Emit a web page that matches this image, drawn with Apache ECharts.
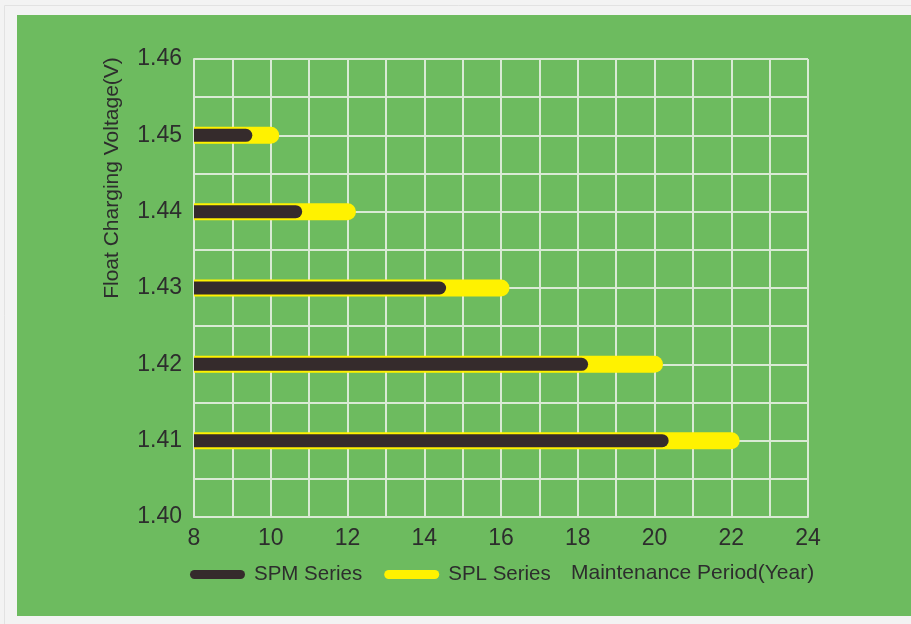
<!DOCTYPE html>
<html>
<head>
<meta charset="utf-8">
<script src="https://cdn.jsdelivr.net/npm/echarts@6/dist/echarts.min.js"></script>
<style>
html,body{margin:0;padding:0;background:#f3f3f3;}
#chart{width:911px;height:624px;}
</style>
</head>
<body>
<div id="chart"></div>
<script>
// Data
const voltages = [1.45, 1.44, 1.43, 1.42, 1.41];
const splYears = [10, 12, 16, 20, 22];
const spmYears = [9.35, 10.65, 14.4, 18.1, 20.2];
const startYear = 8;
const seriesNames = ['SPM Series', 'SPL Series'];
const yAxisTitle = 'Float Charging Voltage(V)';
const xAxisTitle = 'Maintenance Period(Year)';

const GREEN = '#6dbb5f';
const DARK = '#352b2c';
const YELLOW = '#fff200';
const GRIDC = '#d9ead4';
const TEXT = '#2d2d2d';
const FONT = '"Liberation Sans", Arial, sans-serif';

const chart = echarts.init(document.getElementById('chart'), null, {renderer: 'canvas'});

function pillRenderer(thickness, color) {
  return function (params, api) {
    const y = api.value(1);
    const p0 = api.coord([startYear, y]);
    const p1 = api.coord([api.value(0), y]);
    const r = thickness / 2;
    return {
      type: 'rect',
      shape: {x: p0[0], y: p0[1] - r, width: p1[0] - p0[0] + r, height: thickness, r: [0, r, r, 0]},
      style: {fill: color}
    };
  };
}

const series = [
  {
    name: seriesNames[1], type: 'custom', silent: true, z: 3,
    data: voltages.map((v, i) => [splYears[i], v]),
    encode: {x: 0, y: 1},
    itemStyle: {color: YELLOW},
    renderItem: pillRenderer(17, YELLOW)
  },
  {
    name: seriesNames[0], type: 'custom', silent: true, z: 4,
    data: voltages.map((v, i) => [spmYears[i], v]),
    encode: {x: 0, y: 1},
    itemStyle: {color: DARK},
    renderItem: pillRenderer(13, DARK)
  }
];

const pill = 'path://M4.5,0 H50.5 A4.5,4.5 0 0 1 50.5,9 H4.5 A4.5,4.5 0 0 1 4.5,0 Z';

chart.setOption({
  animation: false,
  backgroundColor: 'transparent',
  graphic: [
    {type: 'rect', z: -10, silent: true, shape: {x: 4.5, y: 5.5, width: 910, height: 620}, style: {fill: '#f3f3f3', stroke: '#e2e2e2', lineWidth: 1}},
    {type: 'rect', z: -9, silent: true, shape: {x: 17, y: 15, width: 894, height: 601}, style: {fill: GREEN}},
    {type: 'text', z: 10, silent: true, x: 112, y: 178, rotation: Math.PI / 2,
      style: {text: yAxisTitle, fill: TEXT, font: '21px ' + FONT, textAlign: 'center', textVerticalAlign: 'middle'}},
    {type: 'text', z: 10, silent: true, x: 571, y: 573,
      style: {text: xAxisTitle, fill: TEXT, font: '21px ' + FONT, textAlign: 'left', textVerticalAlign: 'middle'}}
  ],
  grid: {left: 194, right: 103, top: 59, bottom: 107, containLabel: false},
  legend: {
    left: 185, top: 559, itemWidth: 55, itemHeight: 9, itemGap: 22, icon: pill,
    selectedMode: false,
    textStyle: {color: TEXT, fontSize: 20.5, fontFamily: FONT, padding: [0, 0, 0, 4]},
    data: [
      {name: seriesNames[0], itemStyle: {color: DARK}},
      {name: seriesNames[1], itemStyle: {color: YELLOW}}
    ]
  },
  xAxis: {
    type: 'value', min: 8, max: 24, interval: 2,
    axisLine: {show: true, lineStyle: {color: GRIDC, width: 2}},
    axisTick: {show: false},
    axisLabel: {color: TEXT, fontSize: 23, fontFamily: FONT, margin: 10},
    splitLine: {show: true, lineStyle: {color: GRIDC, width: 2}},
    minorTick: {show: false, splitNumber: 2},
    minorSplitLine: {show: true, lineStyle: {color: GRIDC, width: 2}}
  },
  yAxis: {
    type: 'value', min: 1.40, max: 1.46, interval: 0.01,
    axisLine: {show: true, lineStyle: {color: GRIDC, width: 2}},
    axisTick: {show: false},
    axisLabel: {color: TEXT, fontSize: 23, fontFamily: FONT, margin: 12, formatter: v => v.toFixed(2)},
    splitLine: {show: true, lineStyle: {color: GRIDC, width: 2}},
    minorTick: {show: false, splitNumber: 2},
    minorSplitLine: {show: true, lineStyle: {color: GRIDC, width: 2}}
  },
  series: series
});
</script>
</body>
</html>
